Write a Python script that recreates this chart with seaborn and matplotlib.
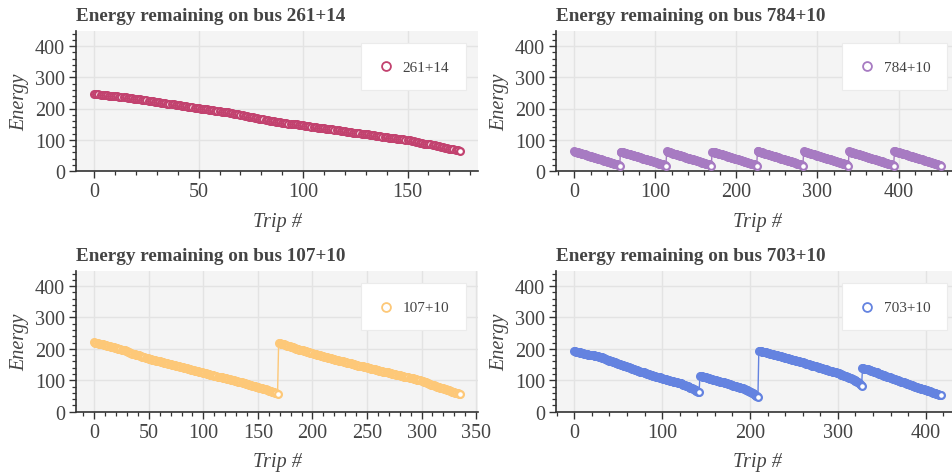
import seaborn as sns
import matplotlib.pyplot as plt
from matplotlib.ticker import MultipleLocator

BUSES = ["261+14", "784+10", "107+10", "703+10"]
COLORS = ["#c2426f", "#a77bc2", "#fdc878", "#6483e0"]
MAJOR_STEP = [50, 100, 50, 100]
MINOR_STEP = [10, 20, 10, 20]

# energy left after each trip
ENERGY_261 = [
    246, 245, 245, 244, 243, 243, 242, 241, 241, 240,
    239, 239, 238, 237, 237, 236, 235, 234, 233, 232,
    231, 230, 229, 228, 227, 226, 225, 224, 223, 222,
    221, 220, 219, 218, 217, 216, 215, 214, 213, 212,
    211, 210, 209, 208, 207, 206, 205, 204, 203, 202,
    201, 200, 199, 198, 197, 196, 195, 194, 193, 192,
    191, 190, 190, 189, 188, 186, 185, 184, 182, 181,
    180, 178, 177, 176, 174, 173, 172, 170, 169, 168,
    166, 165, 164, 162, 161, 160, 159, 158, 157, 156,
    155, 154, 153, 152, 151, 150, 150, 149, 148, 147,
    146, 145, 144, 143, 142, 141, 140, 139, 138, 137,
    137, 136, 135, 134, 133, 132, 131, 130, 129, 128,
    127, 126, 125, 124, 123, 122, 122, 121, 120, 119,
    118, 117, 116, 115, 114, 113, 112, 111, 110, 109,
    108, 107, 106, 105, 105, 104, 103, 102, 101, 100,
    99, 98, 96, 95, 94, 92, 91, 90, 88, 87,
    86, 85, 83, 82, 81, 79, 78, 76, 75, 73,
    72, 70, 69, 68, 66, 65,
]

ENERGY_784 = [
    # charge 1
    63, 62, 61, 61, 60, 59, 58, 57, 57, 56, 55, 54, 53, 53, 52, 51, 50, 49, 49, 48,
    47, 46, 45, 45, 44, 43, 42, 41, 41, 40, 39, 38, 37, 37, 36, 35, 34, 33, 33, 32,
    31, 30, 29, 29, 28, 27, 26, 25, 25, 24, 23, 22, 21, 21, 20, 19, 17,
    # charge 2
    62, 62, 61, 60, 59, 59, 58, 57, 56, 55, 55, 54, 53, 52, 52, 51, 50, 49, 48, 48,
    47, 46, 45, 44, 44, 43, 42, 41, 40, 40, 39, 38, 37, 36, 36, 35, 34, 33, 32, 32,
    31, 30, 29, 28, 28, 27, 26, 25, 24, 24, 23, 22, 21, 20, 20, 19, 17,
    # charge 3
    63, 62, 61, 60, 60, 59, 58, 57, 56, 56, 55, 54, 53, 52, 51, 51, 50, 49, 48, 47,
    47, 46, 45, 44, 43, 43, 42, 41, 40, 39, 39, 38, 37, 36, 35, 35, 34, 33, 32, 31,
    31, 30, 29, 28, 27, 27, 26, 25, 24, 23, 23, 22, 21, 20, 18, 17,
    # charge 4
    62, 62, 61, 60, 59, 58, 58, 57, 56, 55, 54, 54, 53, 52, 51, 50, 50, 49, 48, 47,
    46, 46, 45, 44, 43, 42, 42, 41, 40, 39, 38, 38, 37, 36, 35, 34, 34, 33, 32, 31,
    30, 30, 29, 28, 27, 26, 26, 25, 24, 23, 22, 22, 21, 20, 19, 17,
    # charge 5
    64, 63, 62, 61, 60, 60, 59, 58, 57, 56, 56, 55, 54, 53, 52, 52, 51, 50, 49, 48,
    48, 47, 46, 45, 44, 44, 43, 42, 41, 40, 40, 39, 38, 37, 36, 36, 35, 34, 33, 32,
    32, 31, 30, 29, 28, 28, 27, 26, 25, 24, 24, 23, 22, 21, 20, 19, 17,
    # charge 6
    63, 62, 61, 61, 60, 59, 58, 57, 57, 56, 55, 54, 53, 53, 52, 51, 50, 49, 49, 48,
    47, 46, 45, 45, 44, 43, 42, 41, 41, 40, 39, 38, 37, 37, 36, 35, 34, 33, 33, 32,
    31, 30, 29, 29, 28, 27, 26, 25, 25, 24, 23, 22, 21, 20, 19, 17,
    # charge 7
    63, 62, 61, 60, 59, 59, 58, 57, 56, 55, 55, 54, 53, 52, 51, 51, 50, 49, 48, 47,
    47, 46, 45, 44, 43, 43, 42, 41, 40, 39, 39, 38, 37, 36, 35, 35, 34, 33, 32, 31,
    31, 30, 29, 28, 27, 27, 26, 25, 24, 23, 23, 22, 21, 20, 18, 17,
    # charge 8
    64, 63, 62, 61, 61, 60, 59, 58, 57, 57, 56, 55, 54, 53, 53, 52, 51, 50, 49, 49,
    48, 47, 46, 45, 45, 44, 43, 42, 41, 41, 40, 39, 38, 37, 37, 36, 35, 34, 33, 33,
    32, 31, 30, 29, 29, 28, 27, 26, 25, 25, 24, 23, 22, 21, 20, 19, 18, 16,
]

ENERGY_107 = [
    221, 220, 219, 218, 217, 216, 215, 214, 214, 213,
    212, 211, 210, 209, 208, 207, 206, 206, 205, 204,
    203, 202, 201, 200, 199, 198, 197, 196, 195, 194,
    192, 191, 189, 188, 186, 185,
    184, 183, 182, 181, 180, 179, 177, 176, 175, 174, 173, 172, 171, 170,
    169, 168, 167, 166, 165, 164, 164, 163, 162, 161, 160, 159, 158,
    157, 156, 156, 155, 154, 153, 152, 151, 150, 149, 149, 148, 147,
    146, 145, 144, 143, 142, 141, 140, 140, 139, 138, 137, 136, 135,
    134, 133, 132, 131, 131, 130, 129, 128, 127, 126, 125, 124,
    123, 122, 121, 120, 119, 118, 117, 117, 116, 115,
    114, 113, 112, 111, 111, 110, 109, 108, 108, 107,
    106, 105, 104, 103, 102, 101, 100, 100, 99, 98,
    97, 96, 95, 94, 93, 92, 91, 90, 89, 88, 87, 86,
    85, 84, 83, 82, 81, 80, 79, 78, 77, 76, 75, 74, 73,
    72, 71, 70, 68, 67, 66, 65, 64, 63, 62, 61, 58, 56,
    # recharge at trip 169
    219, 218, 217, 216, 215, 214, 213, 211, 210, 209, 208, 207,
    206, 205, 204, 203, 201, 200, 199, 198, 197, 196, 195,
    194, 193, 192, 191, 190, 189, 188, 187, 186, 185, 184, 183,
    182, 181, 180, 179, 178, 177, 176, 175, 174, 173, 172, 172,
    171, 170, 169, 168, 167, 166, 165,
    164, 163, 162, 161, 160, 160, 159, 158, 157, 156, 155, 154, 154, 153, 152,
    151, 150, 149, 148, 147, 147, 146, 145, 144, 143, 142, 141, 141, 140, 139,
    138, 137, 136, 136, 135, 134, 133, 132, 131, 131, 130, 129, 128, 127, 126, 126,
    125, 124, 123, 122, 121, 121, 120, 119, 118, 117, 116, 116, 115, 114, 113,
    112, 111, 110, 110, 109, 108, 107, 106, 106, 105, 104, 103, 102, 102, 101, 100, 99,
    98, 96, 95, 94, 92, 91, 89, 88, 86, 85,
    84, 83, 82, 80, 79, 78, 77, 76, 75,
    74, 73, 71, 70, 69, 68, 67, 65, 64, 63, 62, 61, 59, 58, 57, 56,
]

ENERGY_703 = [
    193, 192, 191, 191, 190, 189, 189, 188, 187, 187, 186,
    185, 185, 184, 183, 183, 182, 182, 181, 181, 180,
    179, 179, 178, 178, 177, 176, 176, 175, 175, 174,
    173, 172, 171, 170, 169, 168, 166, 165, 164, 163,
    162, 161, 160, 159, 158, 157, 156, 155, 154, 153, 152, 151, 150, 149, 148,
    147, 146, 145, 144, 143, 142, 141, 140, 139, 138, 137, 136, 135, 134, 133,
    132, 131, 130, 129, 128, 127, 126, 126, 125, 124, 123, 122, 121, 120, 119,
    118, 117, 116, 115, 114, 114, 113, 112, 111, 110, 109, 109, 108, 107, 106,
    105, 104, 104, 103, 102, 101, 100, 100, 99, 98,
    97, 97, 96, 95, 94, 94, 93, 92, 92, 91,
    90, 89, 88, 86, 85, 84, 83, 82, 81, 80,
    79, 77, 76, 74, 73, 71, 70, 68, 67, 65, 64, 62,
    # recharge at trip 143
    114, 113, 113, 112,
    111, 110, 109, 109, 108, 107, 106, 105, 105, 104, 103, 102, 102, 101,
    100, 99, 98, 98, 97, 96, 95, 94, 94, 93, 92, 91, 90, 90, 89,
    88, 87, 86, 85, 84, 83, 83, 82, 81, 80, 79, 78, 78, 77, 76,
    75, 74, 73, 71, 70, 69, 68, 67, 65, 64,
    62, 60, 58, 56, 55, 53, 51, 50, 48,
    # recharge at trip 210
    194, 193, 193, 192, 191, 191,
    190, 189, 189, 188, 187, 186, 186, 185, 184, 183, 183, 182,
    181, 180, 180, 179, 178, 177, 177, 176, 175, 175, 174,
    173, 172, 172, 171, 170, 169, 169, 168, 167, 166, 165,
    165, 164, 163, 162, 162, 161, 160, 159, 159, 158, 157,
    156, 155, 154, 153, 153, 152, 151, 150, 149, 148, 147, 147, 146, 145, 144, 143,
    142, 141, 140, 140, 139, 138, 137, 136, 135, 135, 134, 133,
    132, 131, 130, 130, 129, 128, 127, 126, 126, 125, 124,
    123, 122, 121, 120, 118, 117, 116, 115, 114, 113, 112, 111, 110, 108, 107, 106,
    105, 103, 102, 100, 99, 97, 96,
    93, 91, 88, 86, 83,
    # recharge at trip 328
    138, 138, 137, 137, 136, 135, 135, 134,
    133, 132, 131, 130, 129, 128, 127, 126, 125, 124, 123, 121, 120, 119, 118, 117, 116,
    115, 114, 113, 112, 111, 110, 109, 108, 107, 106, 105, 104, 103, 102, 101, 100, 99, 98,
    97, 96, 95, 94, 93, 92, 91, 90, 89, 88, 87, 86, 85, 84, 83, 82, 81, 80, 79, 78,
    77, 76, 75, 74, 73, 72, 72, 71, 70, 69, 68, 67, 67, 66, 65,
    64, 63, 61, 60, 59, 58, 57, 56, 55, 54, 53, 52,
]

SERIES = [ENERGY_261, ENERGY_784, ENERGY_107, ENERGY_703]

W, H = 952, 477
# axes boxes in pixels: left, top, right, bottom
BOXES = [(76, 32, 478, 172), (556, 32, 959, 172),
         (76, 272, 478, 412.7), (556, 272, 959, 412.7)]

TEXT = "#444444"

sns.set_theme(style="ticks")
plt.rcParams["font.family"] = ["Liberation Serif", "DejaVu Serif"]

fig = plt.figure(figsize=(W / 100, H / 100), dpi=100)

for i, bus in enumerate(BUSES):
    l, t, r, b = BOXES[i]
    ax = fig.add_axes([l / W, 1 - b / H, (r - l) / W, (b - t) / H])
    ax.set_facecolor("#f4f4f4")
    energy = SERIES[i]
    trips = list(range(len(energy)))
    color = COLORS[i]

    sns.lineplot(x=trips, y=energy, color=color, linewidth=1.0, ax=ax, zorder=2)
    sns.scatterplot(x=trips, y=energy, marker="o", s=24, color=color,
                    facecolor="white", edgecolor=color, linewidth=1.6,
                    label=bus, ax=ax, zorder=3)

    pad = (len(energy) - 1) * 0.05
    ax.set_xlim(-pad, len(energy) - 1 + pad)
    ax.set_ylim(0, 448)
    ax.xaxis.set_major_locator(MultipleLocator(MAJOR_STEP[i]))
    ax.xaxis.set_minor_locator(MultipleLocator(MINOR_STEP[i]))
    ax.yaxis.set_major_locator(MultipleLocator(100))
    ax.yaxis.set_minor_locator(MultipleLocator(20))
    ax.grid(True, which="major", color="#e3e3e3", linewidth=1)
    ax.set_axisbelow(True)

    for side in ["top", "right"]:
        ax.spines[side].set_visible(False)
    for side in ["left", "bottom"]:
        ax.spines[side].set_color("#333333")
        ax.spines[side].set_linewidth(1.2)
    ax.tick_params(which="major", direction="out", length=5, width=1,
                   color="#333333", labelsize=14.5, labelcolor=TEXT, pad=3)
    ax.tick_params(which="minor", direction="out", length=3, width=0.9,
                   color="#333333")

    ax.set_title(f"Energy remaining on bus {bus}", loc="left", fontsize=13.8,
                 fontweight="bold", color=TEXT, pad=8)
    ax.set_xlabel("Trip #", fontsize=14.5, style="italic", color=TEXT)
    ax.set_ylabel("Energy", fontsize=14.5, style="italic", color=TEXT)
    axw = r - l
    ax.xaxis.set_label_coords(0.5, -50 / 140)
    ax.xaxis.label.set_verticalalignment("center")
    ax.yaxis.set_label_coords(-56 / axw, 0.5)
    ax.yaxis.label.set_verticalalignment("center")

    leg = ax.legend(loc="upper right", bbox_to_anchor=(1 - 12 / axw, 1 - 12 / 140),
                    borderaxespad=0, borderpad=1.1, handlelength=1.0,
                    handletextpad=0.6, fontsize=11, frameon=True, fancybox=False,
                    framealpha=1, edgecolor="#ebebeb", facecolor="white",
                    markerscale=1.3)
    leg.get_frame().set_linewidth(0.8)
    for txt in leg.get_texts():
        txt.set_color(TEXT)
    for h in leg.legend_handles:
        h.set_linewidth(1.3)

fig.savefig("out.png", dpi=100)
